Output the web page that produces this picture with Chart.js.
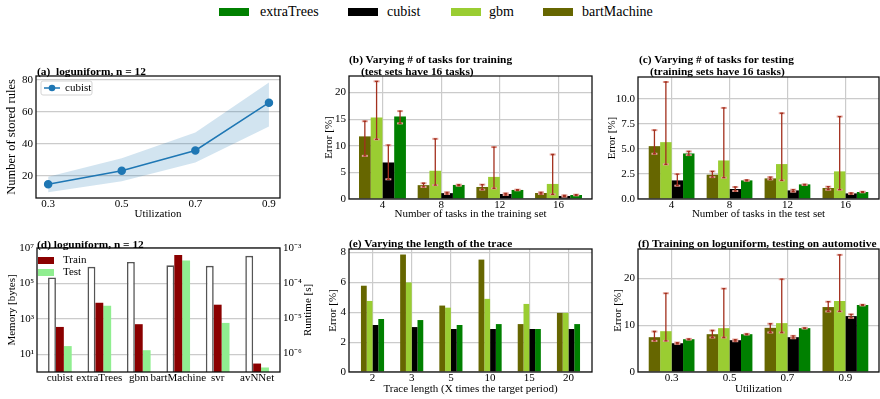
<!DOCTYPE html>
<html>
<head>
<meta charset="utf-8">
<title>Model comparison</title>
<script src="https://cdn.jsdelivr.net/npm/chart.js@4.4.1/dist/chart.umd.min.js"></script>
<style>
  html, body { margin: 0; padding: 0; background: #fff; }
  #figure { position: relative; width: 880px; height: 399px; overflow: hidden;
            font-family: 'Liberation Serif', 'Times New Roman', serif; color: #000; }
  #figure canvas { position: absolute; }
  .panel-title { position: absolute; font-weight: bold; font-size: 11.4px; line-height: 14px; white-space: pre; }
  .key { position: absolute; top: 4px; font-size: 14px; line-height: 16px; }
  .swatch { position: absolute; top: 8px; width: 30px; height: 8px; }
</style>
</head>
<body>
<div id="figure">
  <div class="swatch" style="left:219px;background:#008000"></div>
  <div class="key" style="left:260px">extraTrees</div>
  <div class="swatch" style="left:348px;background:#000000"></div>
  <div class="key" style="left:387px">cubist</div>
  <div class="swatch" style="left:451px;background:#9acd32"></div>
  <div class="key" style="left:489px">gbm</div>
  <div class="swatch" style="left:543px;background:#666600"></div>
  <div class="key" style="left:582px">bartMachine</div>

  <canvas id="chart-a"></canvas>
  <canvas id="chart-b"></canvas>
  <canvas id="chart-c"></canvas>
  <canvas id="chart-d"></canvas>
  <canvas id="chart-e"></canvas>
  <canvas id="chart-f"></canvas>

  <div class="panel-title" style="left:37px;top:64px">(a)  loguniform, n = 12</div>
  <div class="panel-title" style="left:349px;top:52px">(b) Varying # of tasks for training</div>
  <div class="panel-title" style="left:361px;top:64px">(test sets have 16 tasks)</div>
  <div class="panel-title" style="left:639px;top:52px">(c) Varying # of tasks for testing</div>
  <div class="panel-title" style="left:650px;top:64px">(training sets have 16 tasks)</div>
  <div class="panel-title" style="left:37px;top:237px">(d) loguniform, n = 12</div>
  <div class="panel-title" style="left:349px;top:236px">(e) Varying the length of the trace</div>
  <div class="panel-title" style="left:638px;top:236px">(f) Training on loguniform, testing on automotive</div>
</div>

<script>
// ---- (a) number of stored rules vs utilization ----
const utilization = [0.3, 0.5, 0.7, 0.9];
const cubistRules = [14.6, 23.1, 35.8, 65.8];
const cubistRulesLow = [9.6, 16.5, 28.3, 50.8];
const cubistRulesHigh = [19.4, 31.0, 47.0, 78.5];
const rulesTicks = [20, 40, 60, 80];

// ---- (b) varying # of tasks for training ----
const trainTaskLabels = ['4', '8', '12', '16'];
const trainBart = [11.76, 2.6, 2.26, 1.13];
const trainBartErr = [[8.1, 14.6], [2.26, 2.96], [1.76, 2.7], [0.94, 1.26]];
const trainGbm = [15.3, 5.3, 4.15, 2.83];
const trainGbmErr = [[11.2, 22.1], [2.6, 11.3], [2.0, 9.75], [0.88, 8.36]];
const trainCubist = [6.86, 1.1, 0.94, 0.57];
const trainCubistErr = [[3.7, 10.1], [0.94, 1.26], [0.75, 1.07], [0.44, 0.69]];
const trainExtra = [15.5, 2.64, 1.7, 0.75];
const trainExtraErr = [[14.2, 16.5], [2.5, 2.7], [1.64, 1.76], [0.69, 0.82]];

// ---- (c) varying # of tasks for testing ----
const testTaskLabels = ['4', '8', '12', '16'];
const testBart = [5.28, 2.43, 2.06, 1.1];
const testBartErr = [[4.52, 6.88], [2.19, 2.76], [1.96, 2.19], [0.93, 1.23]];
const testGbm = [5.68, 3.85, 3.49, 2.76];
const testGbmErr = [[3.46, 11.69], [2.13, 9.1], [1.86, 8.57], [0.93, 8.24]];
const testCubist = [1.86, 1.0, 0.86, 0.56];
const testCubistErr = [[1.33, 2.49], [0.8, 1.2], [0.73, 0.93], [0.5, 0.6]];
const testExtra = [4.55, 1.86, 1.46, 0.7];
const testExtraErr = [[4.39, 4.75], [1.82, 1.9], [1.4, 1.46], [0.67, 0.73]];

// ---- (d) memory and runtime per model ----
const modelLabels = ['cubist', 'extraTrees', 'gbm', 'bartMachine', 'svr', 'avNNet'];
const runtimeSec = [1.45e-4, 2.9e-4, 4.0e-4, 3.2e-4, 3.1e-4, 6.0e-4];
const memTrain = [350, 8100, 500, 4.0e6, 6300, 3];
const memTest = [29, 5500, 17, 2.0e6, 590, 1.8];
const memTickValues = [1e1, 1e3, 1e5, 1e7];
const memTickLabels = ['10¹', '10³', '10⁵', '10⁷'];
const runtimeTickValues = [1e-3, 1e-4, 1e-5, 1e-6];
const runtimeTickLabels = ['10⁻³', '10⁻⁴', '10⁻⁵', '10⁻⁶'];

// ---- (e) varying the length of the trace ----
const traceLabels = ['2', '3', '5', '10', '15', '20'];
const traceBart = [5.78, 7.87, 4.45, 7.53, 3.21, 3.96];
const traceGbm = [4.76, 6.0, 4.31, 4.9, 4.56, 3.96];
const traceCubist = [3.15, 3.01, 2.88, 2.88, 2.88, 2.88];
const traceExtra = [3.55, 3.48, 3.15, 3.21, 2.88, 3.21];

// ---- (f) training on loguniform, testing on automotive ----
const autoLabels = ['0.3', '0.5', '0.7', '0.9'];
const autoBart = [7.43, 8.07, 9.43, 13.86];
const autoBartErr = [[6.64, 8.64], [7.36, 8.86], [8.43, 10.3], [12.93, 15.0]];
const autoGbm = [8.71, 9.36, 10.43, 15.14];
const autoGbmErr = [[6.64, 16.8], [7.36, 17.8], [8.43, 19.8], [12.93, 25.0]];
const autoCubist = [6.14, 6.79, 7.43, 11.93];
const autoCubistErr = [[6.0, 6.29], [6.57, 6.93], [7.21, 7.71], [11.57, 12.29]];
const autoExtra = [7.0, 8.07, 9.36, 14.29];
const autoExtraErr = [[6.93, 7.07], [8.0, 8.14], [9.29, 9.43], [14.21, 14.36]];

// ---- look ----
const FONT_FAMILY = "'Liberation Serif', 'Times New Roman', serif";
const GRID_COLOR = '#cbcbcb';
const COLOR_BART = '#666600';
const COLOR_GBM = '#9acd32';
const COLOR_CUBIST = '#000000';
const COLOR_EXTRA = '#008000';

Chart.defaults.font.family = FONT_FAMILY;
Chart.defaults.font.size = 11;
Chart.defaults.color = '#000';
Chart.defaults.animation = false;
Chart.defaults.responsive = false;
Chart.defaults.plugins.legend.display = false;
Chart.defaults.plugins.tooltip.enabled = false;

// canvas boxes and the plot area inside each (page pixels)
const BOX_A = { left: 0, top: 55, w: 290, h: 170, area: { l: 36, t: 76, r: 280, b: 198 } };
const BOX_B = { left: 320, top: 55, w: 275, h: 170, area: { l: 349, t: 76, r: 592, b: 199 } };
const BOX_C = { left: 605, top: 55, w: 275, h: 170, area: { l: 638, t: 77, r: 879, b: 199 } };
const BOX_D = { left: 0, top: 225, w: 320, h: 174, area: { l: 37, t: 248, r: 280, b: 372 } };
const BOX_E = { left: 320, top: 225, w: 275, h: 174, area: { l: 349, t: 249, r: 592, b: 372 } };
const BOX_F = { left: 605, top: 225, w: 275, h: 174, area: { l: 638, t: 249, r: 879, b: 372 } };

function placeCanvas(id, box) {
    const c = document.getElementById(id);
    c.width = box.w;
    c.height = box.h;
    c.style.left = box.left + 'px';
    c.style.top = box.top + 'px';
    c.style.width = box.w + 'px';
    c.style.height = box.h + 'px';
    return c;
}

function padFor(box, rightAxis) {
    return {
        left: 0,
        top: box.area.t - box.top,
        right: rightAxis ? 0 : box.left + box.w - box.area.r,
        bottom: 0
    };
}

function toPoints(values) {
    return values.map((v, i) => ({ x: i, y: v }));
}

// black box round the plot area
const framePlugin = {
    id: 'frame',
    afterDraw(chart) {
        const { ctx, chartArea: a } = chart;
        ctx.save();
        ctx.strokeStyle = '#111';
        ctx.lineWidth = 1.3;
        ctx.strokeRect(a.left, a.top, a.right - a.left, a.bottom - a.top);
        ctx.restore();
    }
};

// min/max whiskers on top of the bars
const errorBarPlugin = {
    id: 'errorBars',
    afterDatasetsDraw(chart) {
        const { ctx } = chart;
        const yScale = chart.scales.y;
        chart.data.datasets.forEach((ds, di) => {
            if (!ds.errorBars) return;
            chart.getDatasetMeta(di).data.forEach((bar, i) => {
                const [lo, hi] = ds.errorBars[i];
                const x = bar.x;
                const yLo = yScale.getPixelForValue(lo);
                const yHi = yScale.getPixelForValue(hi);
                ctx.save();
                ctx.strokeStyle = '#e3a29a';
                ctx.lineWidth = 2;
                [yLo, yHi].forEach(yy => {
                    ctx.beginPath();
                    ctx.moveTo(x - 3, yy);
                    ctx.lineTo(x + 3, yy);
                    ctx.stroke();
                });
                ctx.strokeStyle = '#a3301e';
                ctx.lineWidth = 1.3;
                ctx.beginPath();
                ctx.moveTo(x, yLo);
                ctx.lineTo(x, yHi);
                ctx.moveTo(x - 1.5, yLo);
                ctx.lineTo(x + 1.5, yLo);
                ctx.moveTo(x - 1.5, yHi);
                ctx.lineTo(x + 1.5, yHi);
                ctx.stroke();
                ctx.restore();
            });
        });
    }
};

// legend box of panel (a)
const cubistKeyPlugin = {
    id: 'cubistKey',
    afterDraw(chart) {
        const { ctx, chartArea: a } = chart;
        const x = a.left + 5, y = a.top + 5;
        ctx.save();
        ctx.fillStyle = 'rgba(255,255,255,0.85)';
        ctx.strokeStyle = '#d4d4d4';
        ctx.lineWidth = 1;
        ctx.beginPath();
        ctx.roundRect(x, y, 51, 14, 2);
        ctx.fill();
        ctx.stroke();
        ctx.strokeStyle = '#1f77b4';
        ctx.lineWidth = 1.5;
        ctx.beginPath();
        ctx.moveTo(x + 3, y + 7);
        ctx.lineTo(x + 19, y + 7);
        ctx.stroke();
        ctx.fillStyle = '#1f77b4';
        ctx.beginPath();
        ctx.arc(x + 11, y + 7, 3.3, 0, Math.PI * 2);
        ctx.fill();
        ctx.fillStyle = '#000';
        ctx.font = '11px ' + FONT_FAMILY;
        ctx.textBaseline = 'middle';
        ctx.fillText('cubist', x + 24, y + 7.5);
        ctx.restore();
    }
};

// Train / Test key and the right-hand axis title of panel (d)
const memoryKeyPlugin = {
    id: 'memoryKey',
    afterDraw(chart) {
        const { ctx, chartArea: a } = chart;
        ctx.save();
        ctx.font = '11px ' + FONT_FAMILY;
        ctx.textBaseline = 'middle';
        ctx.fillStyle = '#8b0000';
        ctx.fillRect(a.left + 1, a.top + 9, 16, 7);
        ctx.fillStyle = '#90ee90';
        ctx.fillRect(a.left + 1, a.top + 21, 16, 7);
        ctx.fillStyle = '#000';
        ctx.fillText('Train', a.left + 26, a.top + 12.5);
        ctx.fillText('Test', a.left + 26, a.top + 24.5);
        ctx.translate(a.right + 28, (a.top + a.bottom) / 2);
        ctx.rotate(-Math.PI / 2);
        ctx.textAlign = 'center';
        ctx.fillText('Runtime [s]', 0, 0);
        ctx.restore();
    }
};

function indexAxis(labels, box, lo, hi, titleText, titlePad) {
    return {
        type: 'linear',
        min: lo,
        max: hi,
        offset: false,
        afterBuildTicks: s => { s.ticks = labels.map((_, i) => ({ value: i })); },
        afterFit: s => { s.height = box.top + box.h - box.area.b; },
        ticks: { callback: v => labels[v], autoSkip: false, maxRotation: 0, padding: 0 },
        grid: { color: GRID_COLOR, lineWidth: 1.2, drawTicks: false, offset: false },
        border: { display: false },
        title: {
            display: !!titleText,
            text: titleText || '',
            padding: { top: 0, bottom: titlePad }
        }
    };
}

function errorAxis(box, max, step, titlePad, decimals) {
    return {
        min: 0,
        max: max,
        afterFit: s => { s.width = box.area.l - box.left; },
        ticks: {
            stepSize: step,
            includeBounds: false,
            padding: 3,
            callback: v => decimals ? v.toFixed(decimals) : String(v)
        },
        grid: { color: GRID_COLOR, lineWidth: 1.2, drawTicks: false },
        border: { display: false },
        title: { display: true, text: 'Error [%]', padding: { top: titlePad, bottom: 0 } }
    };
}

function modelSets(bart, gbm, cubist, extra, errs, catPct) {
    const base = { borderWidth: 0, barPercentage: 1, categoryPercentage: catPct };
    return [
        Object.assign({ label: 'bartMachine', data: toPoints(bart), backgroundColor: COLOR_BART, errorBars: errs && errs[0] }, base),
        Object.assign({ label: 'gbm', data: toPoints(gbm), backgroundColor: COLOR_GBM, errorBars: errs && errs[1] }, base),
        Object.assign({ label: 'cubist', data: toPoints(cubist), backgroundColor: COLOR_CUBIST, errorBars: errs && errs[2] }, base),
        Object.assign({ label: 'extraTrees', data: toPoints(extra), backgroundColor: COLOR_EXTRA, errorBars: errs && errs[3] }, base)
    ];
}

function errorBarPanel(id, box, labels, series, errs, xRange, xTitle, xTitlePad, yMax, yStep, yTitlePad, decimals, catPct) {
    new Chart(placeCanvas(id, box), {
        type: 'bar',
        data: { datasets: modelSets(series[0], series[1], series[2], series[3], errs, catPct) },
        options: {
            layout: { padding: padFor(box, false) },
            scales: {
                x: indexAxis(labels, box, xRange[0], xRange[1], xTitle, xTitlePad),
                y: errorAxis(box, yMax, yStep, yTitlePad, decimals)
            }
        },
        plugins: [framePlugin, errorBarPlugin]
    });
}

function drawPanelA() {
    const box = BOX_A;
    const pts = vals => utilization.map((u, i) => ({ x: u, y: vals[i] }));
    new Chart(placeCanvas('chart-a', box), {
        type: 'line',
        data: {
            datasets: [
                { data: pts(cubistRulesLow), borderWidth: 0, pointRadius: 0, fill: false },
                { data: pts(cubistRulesHigh), borderWidth: 0, pointRadius: 0, fill: '-1',
                  backgroundColor: 'rgba(31, 119, 180, 0.2)' },
                { label: 'cubist', data: pts(cubistRules), borderColor: '#1f77b4', backgroundColor: '#1f77b4',
                  borderWidth: 1.5, pointRadius: 3.5, tension: 0 }
            ]
        },
        options: {
            layout: { padding: padFor(box, false) },
            scales: {
                x: {
                    type: 'linear', min: 0.267, max: 0.93,
                    afterBuildTicks: s => { s.ticks = utilization.map(v => ({ value: v })); },
                    afterFit: s => { s.height = box.top + box.h - box.area.b; },
                    ticks: { callback: v => v.toFixed(1), maxRotation: 0, padding: 0 },
                    grid: { display: false, drawTicks: false },
                    border: { display: false },
                    title: { display: true, text: 'Utilization', padding: { top: 0, bottom: 4 } }
                },
                y: {
                    min: 6, max: 82.5,
                    afterBuildTicks: s => { s.ticks = rulesTicks.map(v => ({ value: v })); },
                    afterFit: s => { s.width = box.area.l - box.left; },
                    ticks: { padding: 3 },
                    grid: { color: GRID_COLOR, lineWidth: 1.2, drawTicks: false },
                    border: { display: false },
                    title: { display: true, text: 'Number of stored rules', font: { size: 12.5 },
                             padding: { top: 4, bottom: 0 } }
                }
            }
        },
        plugins: [framePlugin, cubistKeyPlugin]
    });
}

function drawPanelD() {
    const box = BOX_D;
    const base = { barPercentage: 1, categoryPercentage: 0.6 };
    new Chart(placeCanvas('chart-d', box), {
        type: 'bar',
        data: {
            datasets: [
                Object.assign({ label: 'Runtime', yAxisID: 'y2', data: toPoints(runtimeSec),
                                backgroundColor: '#ffffff', borderColor: '#555', borderWidth: 1.6 }, base),
                Object.assign({ label: 'Train', yAxisID: 'y', data: toPoints(memTrain),
                                backgroundColor: '#8b0000', borderWidth: 0 }, base),
                Object.assign({ label: 'Test', yAxisID: 'y', data: toPoints(memTest),
                                backgroundColor: '#90ee90', borderWidth: 0 }, base)
            ]
        },
        options: {
            layout: { padding: padFor(box, true) },
            scales: {
                x: {
                    type: 'linear', min: -0.58, max: 5.58, offset: false,
                    afterBuildTicks: s => { s.ticks = modelLabels.map((_, i) => ({ value: i })); },
                    afterFit: s => { s.height = box.top + box.h - box.area.b; },
                    ticks: { callback: v => modelLabels[v], autoSkip: false, maxRotation: 0, padding: 0 },
                    grid: { display: false, drawTicks: false, offset: false },
                    border: { display: false }
                },
                y: {
                    type: 'logarithmic', position: 'left', min: 1, max: 1e7,
                    afterBuildTicks: s => { s.ticks = memTickValues.map(v => ({ value: v })); },
                    afterFit: s => { s.width = box.area.l - box.left; },
                    ticks: { callback: (v, i) => memTickLabels[i], padding: 3 },
                    grid: { color: GRID_COLOR, lineWidth: 1.2, drawTicks: false },
                    border: { display: false },
                    title: { display: true, text: 'Memory [bytes]', padding: { top: 6, bottom: 0 } }
                },
                y2: {
                    type: 'logarithmic', position: 'right', min: 2.9e-7, max: 1e-3,
                    afterBuildTicks: s => { s.ticks = runtimeTickValues.map(v => ({ value: v })); },
                    afterFit: s => { s.width = box.left + box.w - box.area.r; },
                    ticks: { callback: (v, i) => runtimeTickLabels[i], padding: 3 },
                    grid: { drawOnChartArea: false, drawTicks: false },
                    border: { display: false }
                }
            }
        },
        plugins: [framePlugin, memoryKeyPlugin]
    });
}

drawPanelA();

errorBarPanel('chart-b', BOX_B, trainTaskLabels,
    [trainBart, trainGbm, trainCubist, trainExtra],
    [trainBartErr, trainGbmErr, trainCubistErr, trainExtraErr],
    [-0.57, 3.57], 'Number of tasks in the training set', 4, 23.1, 5, 3, 0, 0.8);

errorBarPanel('chart-c', BOX_C, testTaskLabels,
    [testBart, testGbm, testCubist, testExtra],
    [testBartErr, testGbmErr, testCubistErr, testExtraErr],
    [-0.58, 3.58], 'Number of tasks in the test set', 4, 12.19, 2.5, 1, 1, 0.79);

drawPanelD();

errorBarPanel('chart-e', BOX_E, traceLabels,
    [traceBart, traceGbm, traceCubist, traceExtra],
    null,
    [-0.6, 5.6], 'Trace length (X times the target period)', 3, 8.24, 2, 7, 0, 0.59);

errorBarPanel('chart-f', BOX_F, autoLabels,
    [autoBart, autoGbm, autoCubist, autoExtra],
    [autoBartErr, autoGbmErr, autoCubistErr, autoExtraErr],
    [-0.58, 3.58], 'Utilization', 3, 26.25, 10, 7, 0, 0.79);
</script>
</body>
</html>
